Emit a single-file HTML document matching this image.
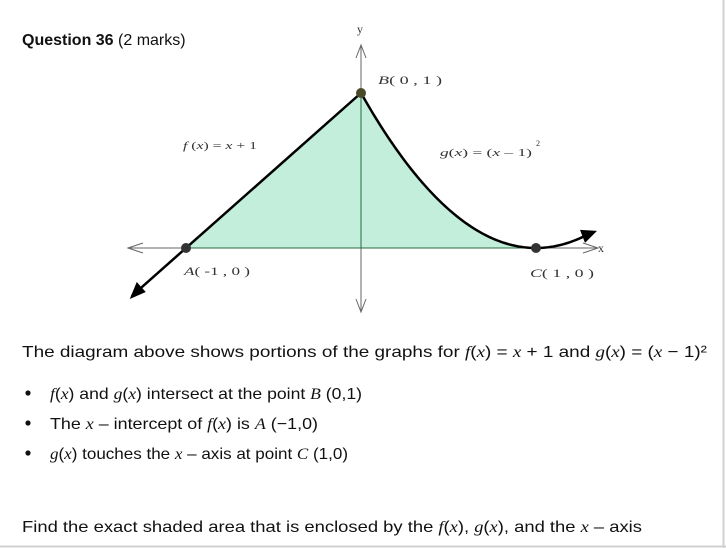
<!DOCTYPE html>
<html><head><meta charset="utf-8"><style>
html,body{margin:0;padding:0;background:#fff;}
svg{display:block;}
.t{font-family:"Liberation Sans",sans-serif;font-size:16px;fill:#111;}
.m{font-family:"Liberation Serif",serif;font-style:italic;}
.s{font-family:"Liberation Serif",serif;fill:#333;}
</style></head><body>
<svg width="726" height="548" viewBox="0 0 726 548">
<line x1="0" y1="546.5" x2="726" y2="546.5" stroke="#d0d0d0" stroke-width="2"/>
<line x1="723.5" y1="0" x2="723.5" y2="548" stroke="#d0d0d0" stroke-width="2"/>
<text x="22" y="45" class="t"><tspan font-weight="bold">Question 36</tspan> (2 marks)</text>
<g id="chart"></g>
<text x="22" y="357" class="t" textLength="685" lengthAdjust="spacingAndGlyphs">The diagram above shows portions of the graphs for <tspan class="m">f</tspan>(<tspan class="m">x</tspan>) = <tspan class="m">x</tspan> + 1  and  <tspan class="m">g</tspan>(<tspan class="m">x</tspan>) = (<tspan class="m">x</tspan> − 1)²</text>
<circle cx="28" cy="393" r="2.6" fill="#111"/>
<text x="50" y="399" class="t" textLength="312" lengthAdjust="spacingAndGlyphs"><tspan class="m">f</tspan>(<tspan class="m">x</tspan>) and <tspan class="m">g</tspan>(<tspan class="m">x</tspan>) intersect at the point <tspan class="m">B</tspan> (0,1)</text>
<circle cx="28" cy="423" r="2.6" fill="#111"/>
<text x="50" y="429" class="t" textLength="268" lengthAdjust="spacingAndGlyphs">The <tspan class="m">x</tspan> – intercept of <tspan class="m">f</tspan>(<tspan class="m">x</tspan>) is <tspan class="m">A</tspan> (−1,0)</text>
<circle cx="28" cy="453" r="2.6" fill="#111"/>
<text x="50" y="459" class="t" textLength="298" lengthAdjust="spacingAndGlyphs"><tspan class="m">g</tspan>(<tspan class="m">x</tspan>) touches the <tspan class="m">x</tspan> – axis at point <tspan class="m">C</tspan> (1,0)</text>
<text x="22" y="532" class="t" textLength="620" lengthAdjust="spacingAndGlyphs">Find the exact shaded area that is enclosed by  the <tspan class="m">f</tspan>(<tspan class="m">x</tspan>),  <tspan class="m">g</tspan>(<tspan class="m">x</tspan>), and the <tspan class="m">x</tspan> – axis</text>
</svg>
<script>
const pointNames=["A","B","C"];
const pointX=[-1,0,1];
const pointY=[0,1,0];
const fRange=[-1.31,0];
const gRange=[0,1.28];
const NS="http://www.w3.org/2000/svg";
const ox=361,oy=248,ux=175,uy=155;
const X=v=>ox+v*ux, Y=v=>oy-v*uy;
const f=x=>x+1, g=x=>(x-1)*(x-1);
const c=document.getElementById('chart');
function mk(t,a){const e=document.createElementNS(NS,t);for(const k in a)e.setAttribute(k,a[k]);c.appendChild(e);return e;}
let d=`M${X(-1)},${Y(0)} L${X(0)},${Y(1)}`;
for(let i=1;i<=60;i++){const x=i/60;d+=` L${X(x)},${Y(g(x))}`;}
d+=" Z";
let e=mk('path',{d:d,fill:'#c3eedb',stroke:'none'});


e=mk('line',{x1:128,y1:oy,x2:598,y2:oy,stroke:'#666','stroke-width':1});


e=mk('path',{d:`M143,${oy-5} L128,${oy} L143,${oy+5} M583,${oy-5} L598,${oy} L583,${oy+5}`,fill:'none',stroke:'#666'});


e=mk('line',{x1:ox,y1:45,x2:ox,y2:312,stroke:'#666','stroke-width':1});


e=mk('path',{d:`M${ox-5},58 L${ox},45 L${ox+5},58 M${ox-5},299 L${ox},312 L${ox+5},299`,fill:'none',stroke:'#666'});


e=mk('line',{x1:X(-1),y1:oy,x2:X(1),y2:oy,stroke:'#2a6a40','stroke-width':1});


e=mk('line',{x1:ox,y1:Y(1),x2:ox,y2:oy,stroke:'#2a6a40','stroke-width':1});


e=mk('line',{x1:X(fRange[0]),y1:Y(f(fRange[0])),x2:X(fRange[1]),y2:Y(f(fRange[1])),stroke:'#000','stroke-width':2.5});


const fx0=X(fRange[0]),fy0=Y(f(fRange[0]));
e=mk('path',{d:`M${fx0-2},${fy0+3} L${fx0+5},${fy0-14} L${fx0+14},${fy0-4} Z`,fill:'#000'});


let gd='';
for(let i=0;i<=80;i++){const x=gRange[0]+(gRange[1]-gRange[0])*i/80;gd+=(i?' L':'M')+X(x)+','+Y(g(x));}
e=mk('path',{d:gd,fill:'none',stroke:'#000','stroke-width':2.5});


const gx1=X(gRange[1]),gy1=Y(g(gRange[1]));
e=mk('path',{d:`M${gx1+12},${gy1-5} L${gx1-5},${gy1-6} L${gx1},${gy1+7} Z`,fill:'#000'});


const fills=['#333','#4a4a2a','#333'];
pointX.forEach((v,i)=>{
  const p=mk('circle',{cx:X(v),cy:Y(pointY[i]),r:5,fill:fills[i]});
  
  
});
function lab(x,y,s,name,sz,len){const t=mk('text',{x:x,y:y,class:'s'});t.innerHTML=s;t.style.fontSize=sz+'px';if(len){t.setAttribute('textLength',len);t.setAttribute('lengthAdjust','spacingAndGlyphs');}return t;}
lab(357,33,'y','y-axis-label',12);
lab(598,252,'x','x-axis-label',12);
lab(378,84,'<tspan font-style="italic">B</tspan>(  0  ,  1  )','label-b',12,64);
lab(184,275,'<tspan font-style="italic">A</tspan>(  -1  ,  0  )','label-a',12,66);
lab(530,277,'<tspan font-style="italic">C</tspan>(  1  ,  0  )','label-c',12,64);
lab(183,149,'<tspan font-style="italic">f</tspan> (<tspan font-style="italic">x</tspan>)  =  <tspan font-style="italic">x</tspan>  +  1','f-label',11,74);
lab(440,156,'<tspan font-style="italic">g</tspan>(<tspan font-style="italic">x</tspan>)  =  (<tspan font-style="italic">x</tspan>  –  1)','g-label',11,92);
lab(536,146,'2','g-label-exp',8);
</script>
</body></html>
